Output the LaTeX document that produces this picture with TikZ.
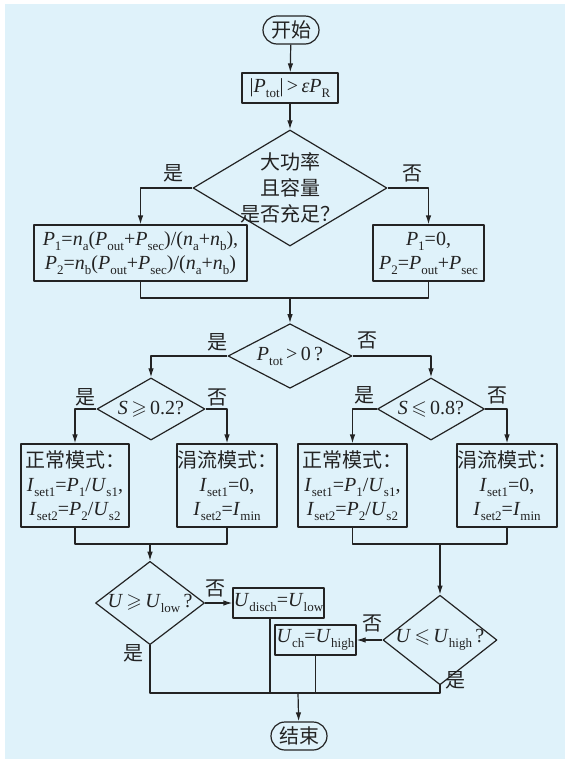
\documentclass[tikz,border=0pt]{standalone}
\usepackage{fontspec}
\usepackage{amssymb}
\setmainfont{Liberation Serif}
\newfontfamily\cjk{Noto Sans CJK SC}
\usetikzlibrary{shapes.geometric,arrows.meta}
\definecolor{bgblue}{RGB}{223,242,250}
\definecolor{ink}{RGB}{35,35,35}
\newcommand{\pv}[2]{\textit{#1}\raisebox{-0.25em}{\fontsize{13}{13}\selectfont #2}}

\begin{document}
\begin{tikzpicture}[x=1pt, y=-1pt, line width=1.2pt, line join=round, >={Latex[length=9pt,width=5.5pt]}, font=\fontsize{20}{24}\selectfont, color=ink]
    \tikzset{box/.style={draw, rectangle, inner sep=0pt, align=center},
             term/.style={draw, rectangle, rounded corners=14pt, minimum width=56, minimum height=28, inner sep=0pt, font=\fontsize{20}{24}\selectfont\cjk},
             dia/.style={draw, diamond, inner sep=-5pt, align=center},
             lab/.style={inner sep=0pt, font=\fontsize{20}{24}\selectfont\cjk}}
    \useasboundingbox (0,0) rectangle (568,761);
    \fill[bgblue] (5,4) rectangle (565,759);
				\node[term] (start) at (291,30) {开始};
				\node[box, minimum width=96, minimum height=30] (chk) at (290,88) {|\pv{P}{tot}|\,>\,\textit{ε}\pv{P}{R}};
				\node[dia, minimum width=194, minimum height=116, inner sep=-20pt, font=\fontsize{20}{26}\selectfont\cjk] (q1) at (290,188) {大功率\\且容量\\是否充足？};
				\node[box, minimum width=213, minimum height=56] (p1) at (140.5,253) {\pv{P}{1}=\pv{n}{a}(\pv{P}{out}+\pv{P}{sec})/(\pv{n}{a}+\pv{n}{b}),\\\pv{P}{2}=\pv{n}{b}(\pv{P}{out}+\pv{P}{sec})/(\pv{n}{a}+\pv{n}{b})};
				\node[box, minimum width=111, minimum height=56] (p0) at (428.5,253) {\pv{P}{1}=0,\\\pv{P}{2}=\pv{P}{out}+\pv{P}{sec}};
				\node[dia, minimum width=124, minimum height=62] (q2) at (290,356) {\pv{P}{tot}\,>\,0\,?};
				\node[dia, minimum width=108, minimum height=52] (q3) at (151,409) {\textit{S}\,$\geqslant$\,0.2?};
				\node[dia, minimum width=107, minimum height=52] (q4) at (431,409) {\textit{S}\,$\leqslant$\,0.8?};
				\node[box, minimum width=108, minimum height=83] (m1) at (75,485.5) {{\cjk 正常模式：}\\\pv{I}{set1}=\pv{P}{1}/\pv{U}{s1},\\\pv{I}{set2}=\pv{P}{2}/\pv{U}{s2}};
				\node[box, minimum width=100, minimum height=83] (m2) at (227,485.5) {{\cjk 涓流模式：}\\\pv{I}{set1}=0,\\\pv{I}{set2}=\pv{I}{min}};
				\node[box, minimum width=109, minimum height=83] (m3) at (352.5,485.5) {{\cjk 正常模式：}\\\pv{I}{set1}=\pv{P}{1}/\pv{U}{s1},\\\pv{I}{set2}=\pv{P}{2}/\pv{U}{s2}};
				\node[box, minimum width=100, minimum height=83] (m4) at (507,485.5) {{\cjk 涓流模式：}\\\pv{I}{set1}=0,\\\pv{I}{set2}=\pv{I}{min}};
				\node[dia, minimum width=109, minimum height=60] (q5) at (150,603) {\textit{U}\,$\geqslant$\,\pv{U}{low}\,?};
				\node[box, minimum width=91, minimum height=30] (dis) at (278.5,603) {\pv{U}{disch}=\pv{U}{low}};
				\node[dia, minimum width=114, minimum height=60] (q6) at (440,640) {\textit{U}\,$\leqslant$\,\pv{U}{high}\,?};
				\node[box, minimum width=81, minimum height=30] (ch) at (315.5,640) {\pv{U}{ch}=\pv{U}{high}};
				\node[term] (stop) at (299,736) {结束};
				\coordinate (j1) at (290,298);
				\coordinate (j2) at (150,544);
				\coordinate (j3) at (440,544);
				\coordinate (j4) at (298,693);
				\draw[->] (start) -- (chk);
				\draw[->] (chk) -- (q1);
				\draw[->] (q1.west) -| (p1.north);
				\draw[->] (q1.east) -| (p0.north);
				\draw (p1.south) |- (j1) -| (p0.south);
				\draw[->] (j1) -- (q2.north);
				\draw[->] (q2.west) -| (q3.north);
				\draw[->] (q2.east) -| (q4.north);
				\draw[->] (q3.west) -| (m1.north);
				\draw[->] (q3.east) -| (m2.north);
				\draw[->] (q4.west) -| (m3.north);
				\draw[->] (q4.east) -| (m4.north);
				\draw (m1.south) |- (j2) -| (m2.south);
				\draw (m3.south) |- (j3) -| (m4.south);
				\draw[->] (j2) -- (q5.north);
				\draw[->] (j3) -- (q6.north);
				\draw[->] (q5.east) -- (dis.west);
				\draw[->] (q6.west) -- (ch.east);
				\draw (q5.south) |- (j4) -| (q6.south);
				\draw ([xshift=-8.5pt]dis.south) -- ([xshift=-8.5pt]dis.south |- j4);
				\draw (ch.south) -- (ch.south |- j4);
				\draw[->] (j4) -- (stop);
				\foreach \pos/\txt [count=\i] in {(173,173)/是, (412,173)/否, (217,342)/是, (367,340)/否, (85,397)/是, (217,397)/否, (364,395)/是, (497,395)/否, (215,588)/否, (133,653)/是, (372,623)/否, (455,680)/是} \node[lab] (yn\i) at \pos {\txt};
    \end{tikzpicture}
\end{document}
